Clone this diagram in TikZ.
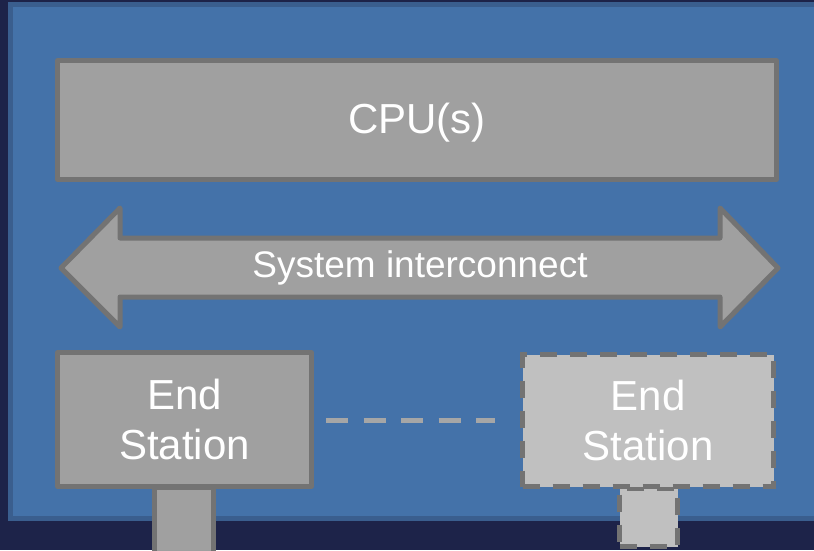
\documentclass[tikz,border=0pt]{standalone}
\usepackage{fontspec}
\setmainfont{Liberation Sans}
\definecolor{bgnavy}{HTML}{1D2349}
\definecolor{panelblue}{HTML}{4472A9}
\definecolor{paneledge}{HTML}{3A5E8E}
\definecolor{boxfill}{HTML}{A0A0A0}
\definecolor{boxedge}{HTML}{737373}
\definecolor{lightfill}{HTML}{C0C0C0}
\definecolor{dashgray}{HTML}{A6A6A6}
\begin{document}
\begin{tikzpicture}[x=1pt,y=-1pt,
  solidbox/.style={draw=boxedge,fill=boxfill,line width=5pt,line join=round,anchor=north west,inner sep=0pt},
  ghostbox/.style={draw=boxedge,fill=lightfill,line width=5pt,dash pattern=on 17pt off 13pt,anchor=north west,inner sep=0pt},
  lbl/.style={text=white,font=\fontsize{42}{50}\selectfont,align=center}]
\useasboundingbox (0,0) rectangle (814,550);
\fill[bgnavy] (0,0) rectangle (814,550);
\draw[paneledge,fill=panelblue,line width=5pt] (10.5,4.5) rectangle (830,518);
% CPU
\node[solidbox,minimum width=719pt,minimum height=119pt] (cpu) at (55,58) {};
\node[lbl,yshift=-3pt] at (cpu.center) {CPU(s)};
% interconnect arrow
\draw[boxedge,fill=boxfill,line width=5pt,line join=round]
  (61,268) -- (120,208) -- (120,238) -- (720,238) -- (720,208) -- (778,268)
  -- (720,327) -- (720,297) -- (120,297) -- (120,327) -- cycle;
\node[text=white,font=\fontsize{37}{44}\selectfont] (bus) at (420,268) {System interconnect};
% stems
\node[solidbox,minimum width=59pt,minimum height=70pt] (stem1) at (152,485) {};
\node[ghostbox,minimum width=58pt,minimum height=58pt] (stem2) at (617,486) {};
% end stations
\node[solidbox,minimum width=254pt,minimum height=134pt] (es1) at (55,350) {};
\node[lbl] at (es1.center) {End\\Station};
\node[ghostbox,minimum width=251pt,minimum height=132pt] (es2) at (520,352) {};
\node[lbl] at (es2.center) {End\\Station};
\draw[dashgray,line width=5pt,dash pattern=on 22pt off 15.5pt,shorten <=12pt,shorten >=25pt]
  (es1.east |- 0,420) -- (es2.west |- 0,420);
\end{tikzpicture}
\end{document}
